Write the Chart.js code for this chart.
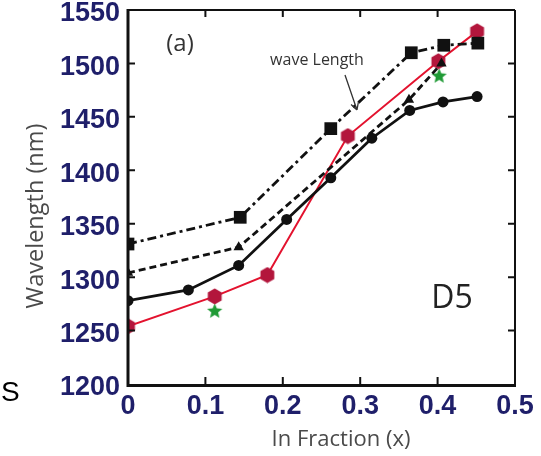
<!DOCTYPE html>
<html>
<head>
<meta charset="utf-8">
<script src="https://cdn.jsdelivr.net/npm/chart.js"></script>
<style>
  html, body { margin: 0; padding: 0; background: #fff; }
  #wrap { width: 541px; height: 456px; position: relative; }
</style>
</head>
<body>
<div id="wrap"><canvas id="grafico"></canvas></div>
<script>
// valores (x = fração de In, y = comprimento de onda em nm)
const quadX = [0, 0.145, 0.262, 0.366, 0.408, 0.452];
const quadY = [1331, 1356, 1439, 1510, 1517, 1519];

const triX = [0, 0.143, 0.363, 0.405];
const triY = [1304, 1328, 1466, 1500];

const circX = [0, 0.078, 0.143, 0.205, 0.262, 0.315, 0.364, 0.407, 0.451];
const circY = [1278, 1288, 1311, 1354, 1393, 1430, 1456, 1464, 1469];

const hexX = [0, 0.112, 0.18, 0.284, 0.401, 0.451];
const hexY = [1254, 1282, 1302, 1432, 1502, 1530];

const estX = [0.112, 0.402];
const estY = [1268, 1488];

const ticksX = [0, 0.1, 0.2, 0.3, 0.4, 0.5];
const ticksY = [1200, 1250, 1300, 1350, 1400, 1450, 1500, 1550];

const pares = (xs, ys) => xs.map((x, i) => ({ x, y: ys[i] }));

// marcadores desenhados à mão (hexágono e estrela cheia)
function hexagono(tam, cor) {
  const c = document.createElement('canvas');
  c.width = c.height = tam;
  const g = c.getContext('2d');
  const r = tam / 2 - 0.5;
  g.beginPath();
  for (let i = 0; i < 6; i++) {
    const a = Math.PI / 6 + i * Math.PI / 3;
    g.lineTo(tam / 2 + r * Math.cos(a), tam / 2 + r * Math.sin(a));
  }
  g.closePath();
  g.fillStyle = cor;
  g.fill();
  return c;
}

function estrela(tam, cor) {
  const c = document.createElement('canvas');
  c.width = c.height = tam;
  const g = c.getContext('2d');
  const R = tam / 2 - 0.5, r = R * 0.45;
  g.beginPath();
  for (let i = 0; i < 10; i++) {
    const a = -Math.PI / 2 + i * Math.PI / 5;
    const rr = i % 2 ? r : R;
    g.lineTo(tam / 2 + rr * Math.cos(a), tam / 2 + rr * Math.sin(a));
  }
  g.closePath();
  g.fillStyle = cor;
  g.fill();
  return c;
}

// moldura, ticks para dentro, títulos e anotações
const moldura = {
  id: 'moldura',
  afterDraw(chart) {
    const { ctx, chartArea: a, scales } = chart;
    const sx = scales.x, sy = scales.y;
    ctx.save();
    ctx.strokeStyle = '#111';
    ctx.lineCap = 'butt';

    ctx.lineWidth = 2;
    ctx.beginPath();
    ctx.moveTo(a.left, a.top); ctx.lineTo(a.right, a.top);
    ctx.moveTo(a.right, a.top); ctx.lineTo(a.right, a.bottom);
    ctx.stroke();
    ctx.lineWidth = 3;
    ctx.beginPath();
    ctx.moveTo(a.left, a.top - 1); ctx.lineTo(a.left, a.bottom + 1.5);
    ctx.lineTo(a.right + 1, a.bottom + 1.5);
    ctx.stroke();

    ctx.lineWidth = 2;
    ctx.beginPath();
    ticksX.slice(1, -1).forEach(v => {
      const p = sx.getPixelForValue(v);
      ctx.moveTo(p, a.bottom); ctx.lineTo(p, a.bottom - 7);
      ctx.moveTo(p, a.top); ctx.lineTo(p, a.top + 7);
    });
    ticksY.slice(1, -1).forEach(v => {
      const p = sy.getPixelForValue(v);
      ctx.moveTo(a.left, p); ctx.lineTo(a.left + 7, p);
      ctx.moveTo(a.right, p); ctx.lineTo(a.right - 7, p);
    });
    ctx.stroke();

    // títulos dos eixos
    ctx.fillStyle = '#4a4a4a';
    ctx.font = '22px "Open Sans"';
    ctx.textAlign = 'center';
    ctx.textBaseline = 'middle';
    ctx.fillText('In Fraction (x)', 341, 440);
    ctx.save();
    ctx.translate(36, 216);
    ctx.rotate(-Math.PI / 2);
    ctx.font = '23.5px "Open Sans"';
    ctx.fillText('Wavelength (nm)', 0, 0);
    ctx.restore();

    // anotações
    ctx.fillStyle = '#333';
    ctx.font = '24px "Open Sans"';
    ctx.fillText('(a)', 180, 44);
    ctx.font = '16px "Open Sans"';
    ctx.fillText('wave Length', 317, 60);
    ctx.fillStyle = '#222';
    ctx.font = '32px "Open Sans"';
    ctx.fillText('D5', 452, 299);
    ctx.fillStyle = '#000';
    ctx.font = '28px "Liberation Sans"';
    ctx.textAlign = 'left';
    ctx.fillText('S', 1, 393);

    // seta da anotação
    const x0 = 345, y0 = 75, x1 = 357, y1 = 110;
    ctx.strokeStyle = '#333';
    ctx.lineWidth = 1.3;
    ctx.beginPath();
    ctx.moveTo(x0, y0); ctx.lineTo(x1, y1);
    const ang = Math.atan2(y1 - y0, x1 - x0);
    ctx.moveTo(x1, y1);
    ctx.lineTo(x1 - 8 * Math.cos(ang - 0.5), y1 - 8 * Math.sin(ang - 0.5));
    ctx.moveTo(x1, y1);
    ctx.lineTo(x1 - 8 * Math.cos(ang + 0.5), y1 - 8 * Math.sin(ang + 0.5));
    ctx.stroke();
    ctx.restore();
  }
};

const fonteTick = { family: '"Liberation Sans", Arial, sans-serif', size: 27, weight: 'bold' };
const azul = '#1f1f6a';

new Chart(document.getElementById('grafico'), {
  type: 'scatter',
  data: {
    datasets: [
      {
        data: pares(quadX, quadY),
        showLine: true,
        borderColor: '#111',
        backgroundColor: '#111',
        borderWidth: 2.8,
        borderDash: [9, 4, 3, 4],
        pointStyle: 'rect',
        pointRadius: 9,
        pointBorderWidth: 0
      },
      {
        data: pares(triX, triY),
        showLine: true,
        borderColor: '#111',
        backgroundColor: '#111',
        borderWidth: 2.8,
        borderDash: [7, 4],
        pointStyle: 'triangle',
        pointRadius: 6,
        pointBorderWidth: 0
      },
      {
        data: pares(circX, circY),
        showLine: true,
        borderColor: '#111',
        backgroundColor: '#111',
        borderWidth: 2.8,
        pointStyle: 'circle',
        pointRadius: 5.5,
        pointBorderWidth: 0
      },
      {
        data: pares(hexX, hexY),
        showLine: true,
        borderColor: '#e3122e',
        backgroundColor: '#b3163c',
        borderWidth: 2,
        pointStyle: hexagono(17, '#b3163c'),
        pointRadius: 8
      },
      {
        data: pares(estX, estY),
        showLine: false,
        pointStyle: estrela(17, '#1f9a35'),
        pointRadius: 8
      }
    ]
  },
  options: {
    responsive: true,
    maintainAspectRatio: false,
    animation: false,
    layout: { padding: { left: 20, top: 6, right: 26, bottom: 0 } },
    plugins: { legend: { display: false }, tooltip: { enabled: false } },
    scales: {
      x: {
        type: 'linear',
        min: 0, max: 0.5,
        afterBuildTicks: s => { s.ticks = ticksX.map(v => ({ value: v })); },
        afterFit: s => { s.height = 72; s.paddingLeft = 0; s.paddingRight = 0; },
        grid: { display: false, drawTicks: false },
        border: { display: false },
        ticks: {
          color: azul, font: fonteTick, padding: 6,
          callback: v => String(v)
        }
      },
      y: {
        type: 'linear',
        min: 1200, max: 1550,
        afterBuildTicks: s => { s.ticks = ticksY.map(v => ({ value: v })); },
        afterFit: s => { s.width = 108; s.paddingTop = 0; s.paddingBottom = 0; },
        grid: { display: false, drawTicks: false },
        border: { display: false },
        ticks: {
          color: azul, font: fonteTick, padding: 8, labelOffset: 4,
          callback: v => String(v)
        }
      }
    }
  },
  plugins: [moldura]
});
</script>
</body>
</html>
